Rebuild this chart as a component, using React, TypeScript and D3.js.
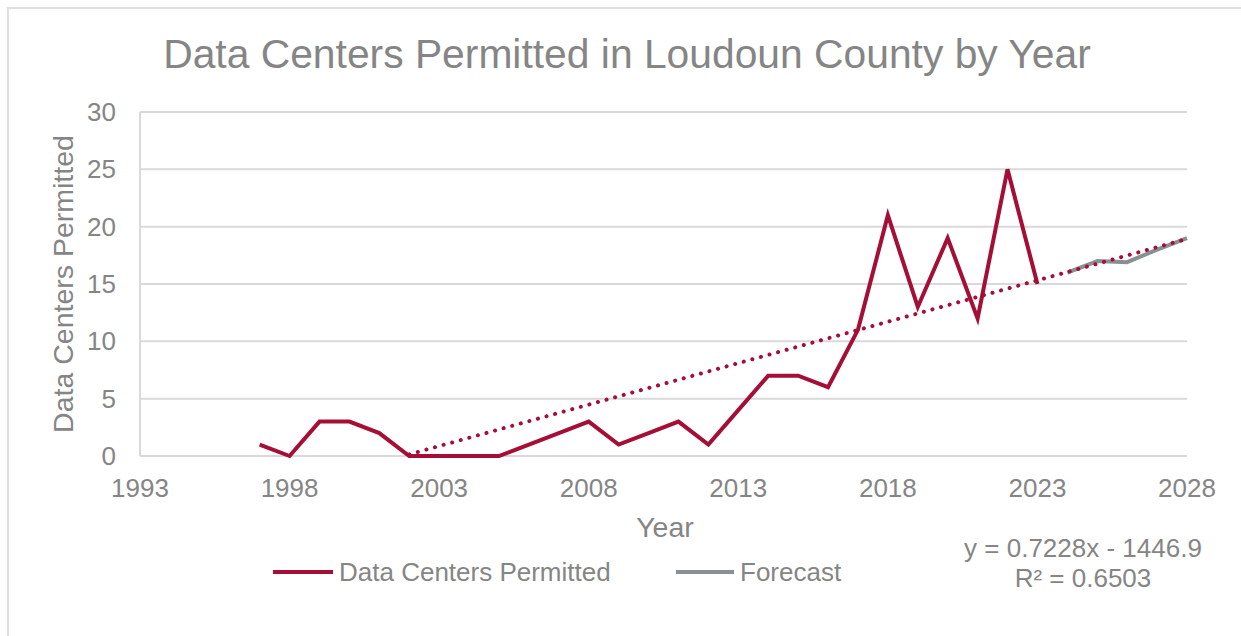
import React from "react";
import * as d3 from "d3";

const years: number[] = [1997, 1998, 1999, 2000, 2001, 2002, 2003, 2004, 2005, 2006, 2007, 2008, 2009, 2010, 2011, 2012, 2013, 2014, 2015, 2016, 2017, 2018, 2019, 2020, 2021, 2022, 2023];
const permitted: number[] = [1, 0, 3, 3, 2, 0, 0, 0, 0, 1, 2, 3, 1, 2, 3, 1, 4, 7, 7, 6, 11, 21, 13, 19, 12, 25, 15];
const forecastYears: number[] = [2024, 2025, 2026, 2027, 2028];
const forecastValues: number[] = [16, 17, 16.9, 18, 19];
const trendRange: number[] = [2002, 2028];
const trendSlope = 0.7228;
const trendIntercept = -1446.9;
const xTicks: number[] = [1993, 1998, 2003, 2008, 2013, 2018, 2023, 2028];
const yTicks: number[] = [0, 5, 10, 15, 20, 25, 30];

const W = 1241;
const H = 636;
const M = { left: 140, right: 1187, top: 112, bottom: 456 };
const FONT = "'Liberation Sans', Arial, sans-serif";
const TEXT = "#858585";
const GRID = "#d9d9d9";
const RED = "#A50E37";
const GREY = "#8A8F94";

export default function App() {
  const x = d3.scaleLinear().domain([1993, 2028]).range([M.left, M.right]);
  const y = d3.scaleLinear().domain([0, 30]).range([M.bottom, M.top]);
  const line = d3
    .line<[number, number]>()
    .x((d) => x(d[0]))
    .y((d) => y(d[1]));
  const mainPts: [number, number][] = years.map((yr, i) => [yr, permitted[i]]);
  const fcPts: [number, number][] = forecastYears.map((yr, i) => [yr, forecastValues[i]]);
  const trendPts: [number, number][] = trendRange.map((yr) => [yr, trendSlope * yr + trendIntercept]);

  return (
    <svg
      width={W}
      height={H}
      style={{ position: "absolute", left: 0, top: 0, background: "#fff" }}
      fontFamily={FONT}
    >
      <rect x={8} y={8} width={1250} height={650} fill="#fff" stroke="#e0e0e0" strokeWidth={2} />
      <text x={627} y={68} textAnchor="middle" fontSize={40.8} fill={TEXT}>
        Data Centers Permitted in Loudoun County by Year
      </text>
      {yTicks.map((t) => (
        <line key={"g" + t} x1={M.left} x2={M.right} y1={y(t)} y2={y(t)} stroke={GRID} strokeWidth={2} />
      ))}
      <line x1={M.left} x2={M.left} y1={M.top} y2={M.bottom} stroke={GRID} strokeWidth={2} />
      {yTicks.map((t) => (
        <text key={"yt" + t} x={116} y={y(t) + 9} textAnchor="end" fontSize={26} fill={TEXT}>
          {t}
        </text>
      ))}
      {xTicks.map((t) => (
        <text key={"xt" + t} x={x(t)} y={497} textAnchor="middle" fontSize={26} fill={TEXT}>
          {t}
        </text>
      ))}
      <text x={665} y={537} textAnchor="middle" fontSize={28.5} fill={TEXT}>
        Year
      </text>
      <text
        transform={`translate(73, ${(M.top + M.bottom) / 2}) rotate(-90)`}
        textAnchor="middle"
        fontSize={28.5}
        fill={TEXT}
      >
        Data Centers Permitted
      </text>
      <path d={line(fcPts) || ""} fill="none" stroke={GREY} strokeWidth={4} strokeLinejoin="round" />
      <path d={line(mainPts) || ""} fill="none" stroke={RED} strokeWidth={4} strokeLinejoin="miter" />
      <path
        d={line(trendPts) || ""}
        fill="none"
        stroke={RED}
        strokeWidth={4}
        strokeLinecap="round"
        strokeDasharray="0.1 8.8"
      />
      <line x1={273} x2={333} y1={572} y2={572} stroke={RED} strokeWidth={4} />
      <text x={339} y={581} fontSize={26} fill={TEXT}>
        Data Centers Permitted
      </text>
      <line x1={676} x2={734} y1={572} y2={572} stroke={GREY} strokeWidth={4} />
      <text x={740} y={581} fontSize={26} fill={TEXT}>
        Forecast
      </text>
      <text x={1083} y={557} textAnchor="middle" fontSize={26} fill={TEXT}>
        {`y = ${trendSlope}x - ${Math.abs(trendIntercept)}`}
      </text>
      <text x={1083} y={587} textAnchor="middle" fontSize={26} fill={TEXT}>
        R² = 0.6503
      </text>
    </svg>
  );
}
